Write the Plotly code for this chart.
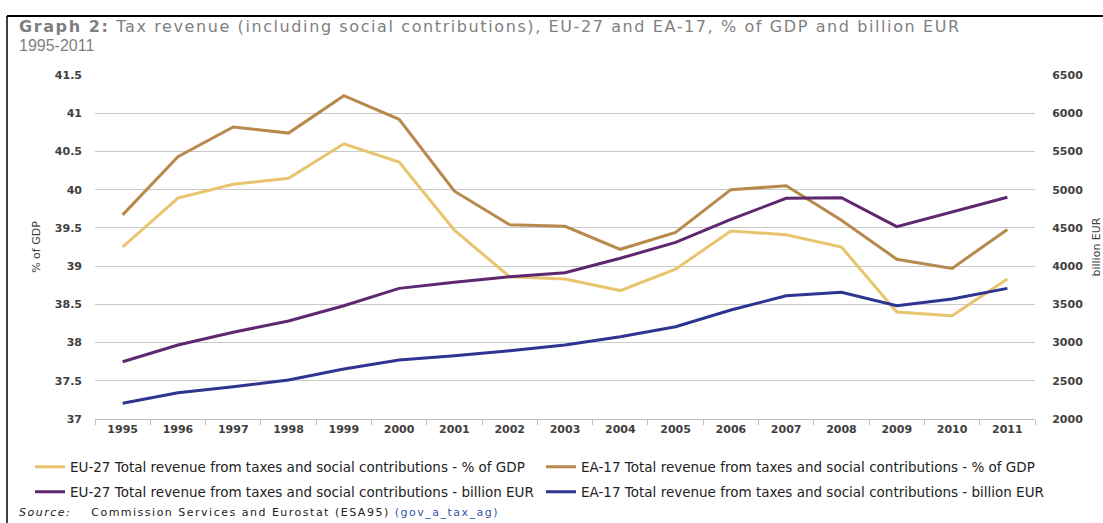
import plotly.graph_objects as go

years = [str(y) for y in range(1995, 2012)]

eu27_pct = [39.25, 39.89, 40.07, 40.15, 40.60, 40.36, 39.47, 38.86, 38.83,
            38.68, 38.96, 39.46, 39.41, 39.25, 38.40, 38.35, 38.83]
ea17_pct = [39.67, 40.43, 40.82, 40.74, 41.23, 40.92, 39.98, 39.54, 39.52,
            39.22, 39.44, 40.00, 40.05, 39.60, 39.09, 38.97, 39.48]
eu27_bn = [2749, 2968, 3134, 3282, 3482, 3709, 3788, 3861, 3914,
           4102, 4311, 4612, 4887, 4895, 4516, 4712, 4900]
ea17_bn = [2205, 2344, 2422, 2510, 2654, 2772, 2828, 2893, 2968,
           3077, 3207, 3426, 3613, 3657, 3482, 3570, 3709]

names = [
    "EU-27 Total revenue from taxes and social contributions - % of GDP",
    "EA-17 Total revenue from taxes and social contributions - % of GDP",
    "EU-27 Total revenue from taxes and social contributions - billion EUR",
    "EA-17 Total revenue from taxes and social contributions - billion EUR",
]
colors = ["#E9C46E", "#B8894D", "#5E2770", "#2E3590"]

# plot area in pixels
W, H = 1103, 523
L, R, T, B = 95, 1035, 75, 419
pw, ph = R - L, B - T


def px(x):
    return (x - L) / pw


def py(y):
    return (B - y) / ph


def spaced(text, ls):
    return f"<span style='letter-spacing:{ls}px'>{text}</span>"


FONT = "DejaVu Sans"

# one legend box per series, laid out as a 2x2 grid below the plot
legend_ids = ["legend", "legend2", "legend3", "legend4"]
legend_pos = [(30, 467), (541, 467), (30, 492), (541, 492)]

fig = go.Figure()
series = [(eu27_pct, "y"), (ea17_pct, "y"), (eu27_bn, "y2"), (ea17_bn, "y2")]
for (vals, ax), name, col, lg in zip(series, names, colors, legend_ids):
    fig.add_trace(go.Scatter(x=years, y=vals, name=name, mode="lines",
                             yaxis=ax, legend=lg,
                             line=dict(color=col, width=3)))

tick_font = dict(family=FONT, size=11, color="#404040", weight="bold")

legend_layout = {
    lg: dict(orientation="h", xanchor="left", yanchor="middle",
             x=px(lx), y=py(ly),
             font=dict(family=FONT, size=13.5, color="#222222"),
             bgcolor="rgba(0,0,0,0)")
    for lg, (lx, ly) in zip(legend_ids, legend_pos)
}

fig.update_layout(
    width=W, height=H,
    margin=dict(l=L, r=W - R, t=T, b=H - B, pad=0),
    paper_bgcolor="white", plot_bgcolor="white",
    showlegend=True,
    **legend_layout,
    xaxis=dict(type="category", range=[-0.5, 16.5], showgrid=False, showline=True,
               linecolor="#BFBFBF", ticks="outside", tickson="boundaries", ticklen=5,
               tickcolor="#BFBFBF", tickfont=tick_font, fixedrange=True,
               automargin=False),
    yaxis=dict(range=[37, 41.5], dtick=0.5, showgrid=True, gridcolor="#C9C9C9",
               gridwidth=1, zeroline=False, showline=False, tickfont=tick_font,
               ticklabelstandoff=12, automargin=False,
               title=dict(text="% of GDP", font=dict(family=FONT, size=11, color="#404040"),
                          standoff=12)),
    yaxis2=dict(range=[2000, 6500], dtick=500, overlaying="y", side="right",
                showgrid=False, zeroline=False, showline=False, tickfont=tick_font,
                ticks="outside", ticklen=14, tickcolor="rgba(0,0,0,0)",
                automargin=False,
                title=dict(text="billion EUR", font=dict(family=FONT, size=11, color="#404040"),
                           standoff=10)),
    annotations=[
        dict(text=spaced("<b>Graph 2:</b> Tax revenue (including social contributions), "
                         "EU-27 and EA-17, % of GDP and billion EUR", 1.6),
             xref="paper", yref="paper", x=px(17), y=py(27), xanchor="left", yanchor="middle",
             align="left", showarrow=False,
             font=dict(family=FONT, size=16, color="#7F7F7F")),
        dict(text="1995-2011",
             xref="paper", yref="paper", x=px(17), y=py(45), xanchor="left", yanchor="middle",
             align="left", showarrow=False,
             font=dict(family="Liberation Sans", size=16, color="#7F7F7F")),
        dict(text=spaced("<i>Source:</i>    Commission Services and Eurostat (ESA95) "
                         "<span style='color:#3355A8'>(gov_a_tax_ag)</span>", 1.5),
             xref="paper", yref="paper", x=px(17), y=py(512), xanchor="left", yanchor="middle",
             align="left", showarrow=False,
             font=dict(family=FONT, size=11, color="#222222")),
    ],
    shapes=[
        dict(type="line", xref="paper", yref="paper", x0=px(7), x1=px(W + 5),
             y0=py(16), y1=py(16), line=dict(color="black", width=2)),
        dict(type="line", xref="paper", yref="paper", x0=px(7), x1=px(7),
             y0=py(16), y1=py(H + 5), line=dict(color="black", width=1.5)),
    ],
)

fig.write_html("out.html")
